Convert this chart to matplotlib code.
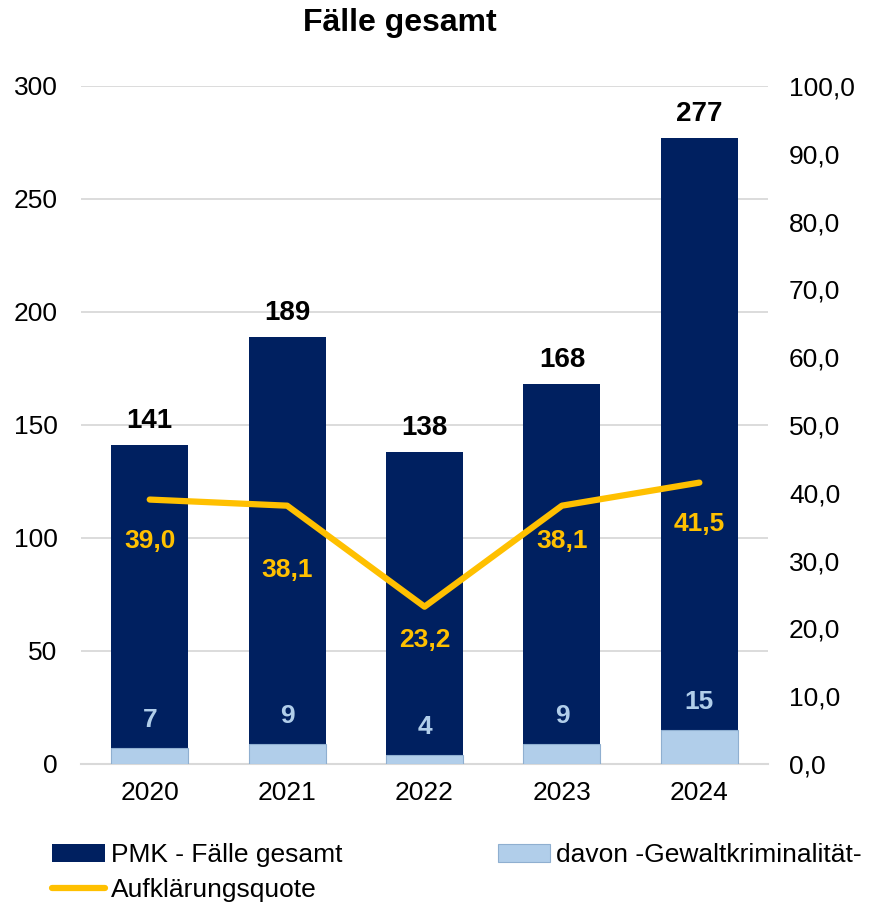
import matplotlib.pyplot as plt
import numpy as np

plt.rcParams['font.family'] = ['Liberation Sans', 'DejaVu Sans']

# Daten
jahre = ['2020', '2021', '2022', '2023', '2024']
faelle_gesamt = [141, 189, 138, 168, 277]
gewalt = [7, 9, 4, 9, 15]
quote = [39.0, 38.1, 23.2, 38.1, 41.5]
quote_offset = [-41, -64, -33, -35, -41]  # Pixelabstand der Quotenbeschriftung

dunkelblau = '#002060'
hellblau = '#B1CEEA'
gold = '#FFC000'
grau = '#D9D9D9'

fig = plt.figure(figsize=(8.73, 9.08), dpi=100)
ax = fig.add_axes([0.0928, 0.1586, 0.787, 0.7467])
ax2 = ax.twinx()

x = np.arange(len(jahre))
b1 = ax.bar(x, faelle_gesamt, width=0.56, color=dunkelblau, zorder=2,
            label='PMK - Fälle gesamt')
b2 = ax.bar(x, gewalt, width=0.56, color=hellblau, edgecolor='#8FAFD0',
            linewidth=0.8, zorder=3, label='davon -Gewaltkriminalität-')

for xi, v in zip(x, faelle_gesamt):
    ax.annotate(str(v), (xi, v), xytext=(0, 8), textcoords='offset points',
                ha='center', va='bottom', fontsize=20, fontweight='bold')
for xi, v in zip(x, gewalt):
    ax.annotate(str(v), (xi, v), xytext=(0, 20), textcoords='offset points',
                ha='center', va='center', fontsize=19, fontweight='bold',
                color=hellblau)

ax.set_ylim(0, 300)
ax.set_yticks(range(0, 301, 50))
ax.set_xlim(-0.5, len(jahre) - 0.5)
ax.set_xticks(x)
ax.set_xticklabels(jahre)
ax.grid(axis='y', color=grau, linewidth=1.3, zorder=0)
ax.set_axisbelow(True)
for s in ['top', 'left', 'right']:
    ax.spines[s].set_visible(False)
ax.spines['bottom'].set_color(grau)
ax.spines['bottom'].set_linewidth(1.5)
ax.tick_params(length=0, labelsize=19, pad=12)
ax.tick_params(axis='y', pad=17)

l1, = ax2.plot(x, quote, color=gold, linewidth=4.5, zorder=4,
               solid_capstyle='round', label='Aufklärungsquote')
for xi, v, off in zip(x, quote, quote_offset):
    ax2.annotate(f'{v:.1f}'.replace('.', ','), (xi, v),
                 xytext=(0, off * 0.72), textcoords='offset points',
                 ha='center', va='center', fontsize=19, fontweight='bold',
                 color=gold)
ax2.set_ylim(0, 100)
ax2.set_yticks(range(0, 101, 10))
ax2.set_yticklabels([f'{t:.1f}'.replace('.', ',') for t in range(0, 101, 10)])
for s in ax2.spines.values():
    s.set_visible(False)
ax2.tick_params(length=0, labelsize=19, pad=15)

ax.set_zorder(ax2.get_zorder() - 1)
ax.patch.set_visible(False)
ax2.set_zorder(1)

fig.text(0.458, 0.975, 'Fälle gesamt', fontsize=23, fontweight='bold',
         ha='center', va='center')

fig.legend(handles=[b1, l1, b2], ncol=2, loc='upper left',
           bbox_to_anchor=(0.048, 0.083), frameon=False, fontsize=19,
           handlelength=2.0, handletextpad=0.2, columnspacing=5.9,
           labelspacing=0.4, borderaxespad=0)

fig.savefig('out.png', dpi=100)
